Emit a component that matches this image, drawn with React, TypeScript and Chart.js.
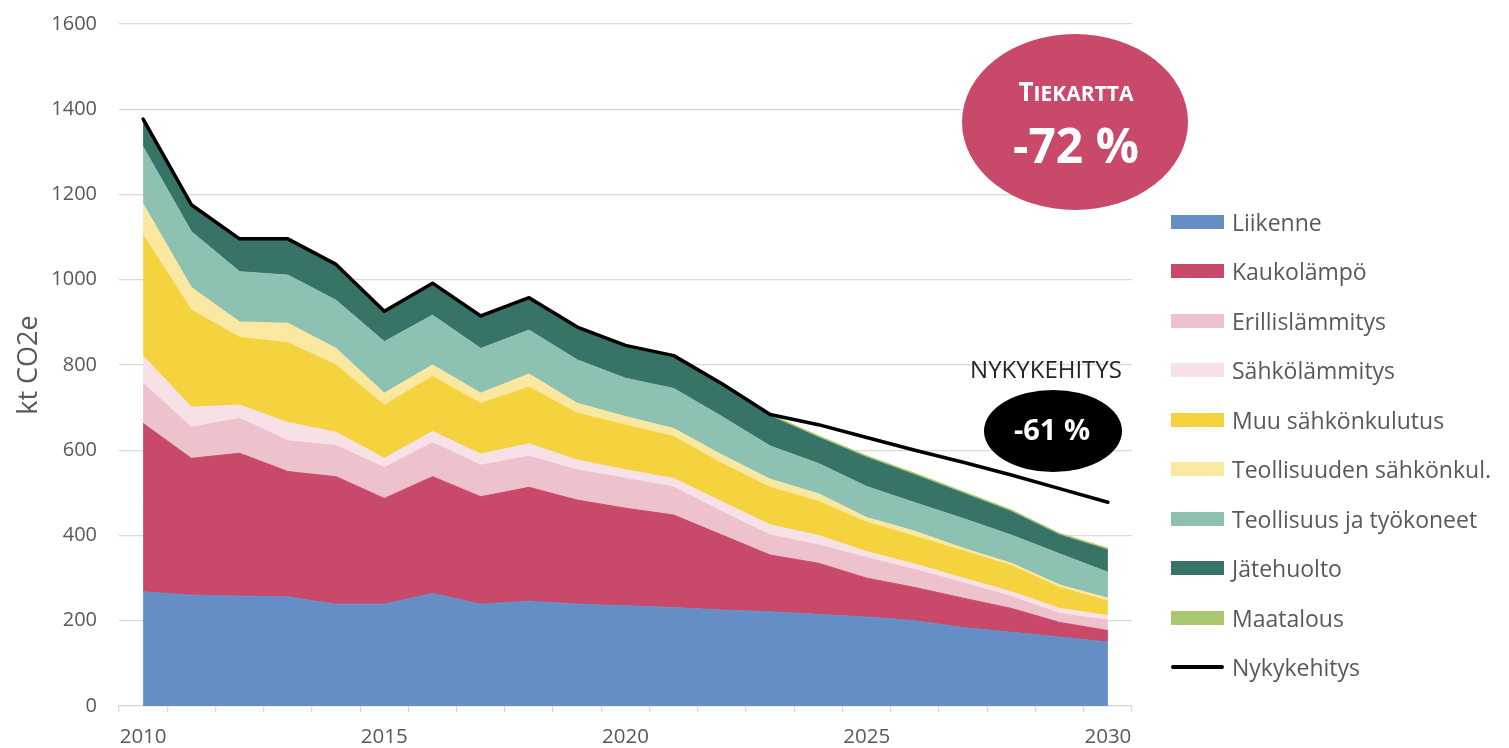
import React, { useEffect, useRef } from 'react';
import { Chart, registerables } from 'chart.js';

Chart.register(...registerables);

// ---------- data ----------
const years = ['2010','2011','2012','2013','2014','2015','2016','2017','2018','2019','2020','2021','2022','2023','2024','2025','2026','2027','2028','2029','2030'];
const xTickLabels = ['2010', '2015', '2020', '2025', '2030'];

const liikenne = [268, 260, 258, 256, 239, 239, 264, 239, 246, 239, 235, 231, 225, 221, 215, 209, 200, 184, 173, 162, 150];
const kaukolampo = [395, 321, 335, 294, 299, 248, 274, 252, 267, 244, 229, 217, 176, 133, 120, 91, 78, 69, 56, 34, 27];
const erillislammitys = [94, 73, 82, 72, 73, 72, 80, 74, 73, 71, 70, 66, 55, 47, 43, 48, 42, 36, 28, 21, 24];
const sahkolammitys = [64, 47, 31, 43, 31, 22, 26, 26, 29, 23, 20, 20, 23, 24, 22, 14, 13, 11, 11, 12, 11];
const muuSahkonkulutus = [284, 228, 159, 187, 158, 125, 129, 119, 133, 110, 105, 98, 90, 88, 80, 69, 65, 64, 61, 49, 34];
const teollisuudenSahkonkul = [73, 53, 36, 46, 39, 28, 27, 24, 31, 23, 20, 19, 20, 19, 18, 11, 12, 6, 6, 6, 7];
const teollisuusJaTyokoneet = [134, 131, 118, 113, 113, 121, 117, 105, 103, 102, 90, 94, 90, 78, 71, 73, 67, 70, 66, 73, 61];
const jatehuolto = [62, 60, 74, 82, 81, 68, 72, 73, 72, 73, 73, 73, 73, 70, 61, 68, 65, 59, 55, 44, 52];
const maatalous = [3, 3, 3, 3, 3, 3, 3, 3, 4, 4, 4, 4, 4, 4, 4, 4, 4, 4, 4, 4, 4];
const nykykehitys = [1377, 1176, 1096, 1096, 1036, 926, 992, 915, 958, 889, 846, 822, 756, 684, 660, 630, 600, 572, 542, 510, 478];

const seriesNames = ['Liikenne', 'Kaukolämpö', 'Erillislämmitys', 'Sähkölämmitys', 'Muu sähkönkulutus', 'Teollisuuden sähkönkul.', 'Teollisuus ja työkoneet', 'Jätehuolto', 'Maatalous'];
const seriesColors = ['#658DC6', '#C9496B', '#EDC2CC', '#F7E1E7', '#F4D33F', '#FAE8A0', '#8DC2B3', '#377366', '#A9C86E'];
const seriesData = [liikenne, kaukolampo, erillislammitys, sahkolammitys, muuSahkonkulutus, teollisuudenSahkonkul, teollisuusJaTyokoneet, jatehuolto, maatalous];
const lineName = 'Nykykehitys';
const lineColor = '#000000';

const FONT = "'Open Sans', 'DejaVu Sans', sans-serif";

const annotationPlugin = {
  id: 'annotations',
  afterDraw(chart: any) {
    const ctx = chart.ctx as CanvasRenderingContext2D;
    ctx.save();
    // Tiekartta ellipse
    ctx.fillStyle = '#C9496B';
    ctx.beginPath();
    ctx.ellipse(1075, 122, 113, 88, 0, 0, Math.PI * 2);
    ctx.fill();
    ctx.fillStyle = '#FFFFFF';
    ctx.textBaseline = 'alphabetic';
    ctx.textAlign = 'left';
    ctx.font = `bold 26px ${FONT}`;
    const wT = ctx.measureText('T').width;
    ctx.font = `bold 21px ${FONT}`;
    const wRest = ctx.measureText('IEKARTTA').width;
    const startX = 1076 - (wT + wRest) / 2;
    ctx.font = `bold 26px ${FONT}`;
    ctx.fillText('T', startX, 101);
    ctx.font = `bold 21px ${FONT}`;
    ctx.fillText('IEKARTTA', startX + wT, 101);
    ctx.font = `bold 48px ${FONT}`;
    ctx.textAlign = 'center';
    ctx.fillText('-72 %', 1076, 163);

    // Nykykehitys label
    ctx.fillStyle = '#262626';
    ctx.font = `24px ${FONT}`;
    ctx.fillText('NYKYKEHITYS', 1046, 378);

    // black ellipse
    ctx.fillStyle = '#000000';
    ctx.beginPath();
    ctx.ellipse(1053, 431, 69, 41, 0, 0, Math.PI * 2);
    ctx.fill();
    ctx.fillStyle = '#FFFFFF';
    ctx.font = `bold 29px ${FONT}`;
    ctx.textBaseline = 'middle';
    ctx.fillText('-61 %', 1052, 432);
    ctx.restore();
  },
};

export default function App() {
  const canvasRef = useRef<HTMLCanvasElement | null>(null);

  useEffect(() => {
    if (!canvasRef.current) return;
    Chart.defaults.font.family = FONT;
    const datasets: any[] = seriesData.map((d, i) => ({
      label: seriesNames[i],
      data: d,
      backgroundColor: seriesColors[i],
      borderColor: seriesColors[i],
      borderWidth: 1,
      fill: i === 0 ? 'origin' : '-1',
      pointRadius: 0,
      pointHoverRadius: 0,
      tension: 0,
      stack: 'areas',
      order: 1,
    }));
    datasets.push({
      label: lineName,
      data: nykykehitys,
      borderColor: lineColor,
      backgroundColor: lineColor,
      borderWidth: 3.5,
      fill: false,
      pointRadius: 0,
      pointHoverRadius: 0,
      tension: 0,
      stack: 'line',
      order: 0,
      borderCapStyle: 'round',
      borderJoinStyle: 'round',
    });

    const chart = new Chart(canvasRef.current, {
      type: 'line',
      data: { labels: years, datasets },
      plugins: [annotationPlugin],
      options: {
        animation: false,
        responsive: true,
        maintainAspectRatio: false,
        layout: { padding: { left: 0, right: 377, top: 24, bottom: 0 } },
        plugins: {
          legend: { display: false },
          tooltip: { enabled: false },
          filler: { drawTime: 'beforeDatasetsDraw' } as any,
        },
        scales: {
          x: {
            type: 'category',
            offset: true,
            grid: {
              offset: true,
              drawOnChartArea: false,
              drawTicks: true,
              tickLength: 6,
              color: '#D9D9D9',
              lineWidth: 1.3,
            },
            border: { display: true, color: '#D9D9D9', width: 1.3 },
            ticks: {
              autoSkip: false,
              maxRotation: 0,
              color: '#595959',
              font: { size: 20.5 },
              padding: 13,
              callback: (_v: any, i: number) => (xTickLabels.includes(years[i]) ? years[i] : ''),
            },
            afterFit: (s: any) => { s.height = 42; },
          },
          y: {
            stacked: true,
            min: 0,
            max: 1600,
            ticks: {
              stepSize: 200,
              color: '#595959',
              font: { size: 20, lineHeight: 0.1 },
              padding: 22,
              callback: (v: any) => String(v),
            },
            grid: { color: '#D9D9D9', lineWidth: 1.3, drawTicks: false },
            border: { display: false },
            title: {
              display: true,
              text: 'kt CO2e',
              color: '#595959',
              font: { size: 27 },
              padding: { top: 13, bottom: 0 },
            },
            afterFit: (s: any) => { s.width = 119; },
          },
        },
      } as any,
    });
    return () => chart.destroy();
  }, []);

  const legendItems = [
    ...seriesNames.map((n, i) => ({ name: n, color: seriesColors[i], line: false })),
    { name: lineName, color: lineColor, line: true },
  ];

  return (
    <div style={{ position: 'absolute', left: 0, top: 0, width: 1509, height: 748, overflow: 'hidden', background: '#fff' }}>
      <div style={{ position: 'absolute', left: 0, top: 0, width: 1509, height: 748 }}>
        <canvas ref={canvasRef} />
      </div>
      {legendItems.map((it, i) => {
        const cy = 222 + i * 49.44;
        return (
          <div key={it.name} style={{ position: 'absolute', left: 1171, top: cy - 20, height: 40, display: 'flex', alignItems: 'center', whiteSpace: 'nowrap' }}>
            <div style={{
              width: 53,
              height: it.line ? 4 : 14,
              background: it.color,
              borderRadius: it.line ? 2 : 0,
              marginRight: 8,
              flex: '0 0 auto',
            }} />
            <span style={{ fontFamily: FONT, fontSize: 23, color: '#595959', lineHeight: '40px' }}>{it.name}</span>
          </div>
        );
      })}
    </div>
  );
}
